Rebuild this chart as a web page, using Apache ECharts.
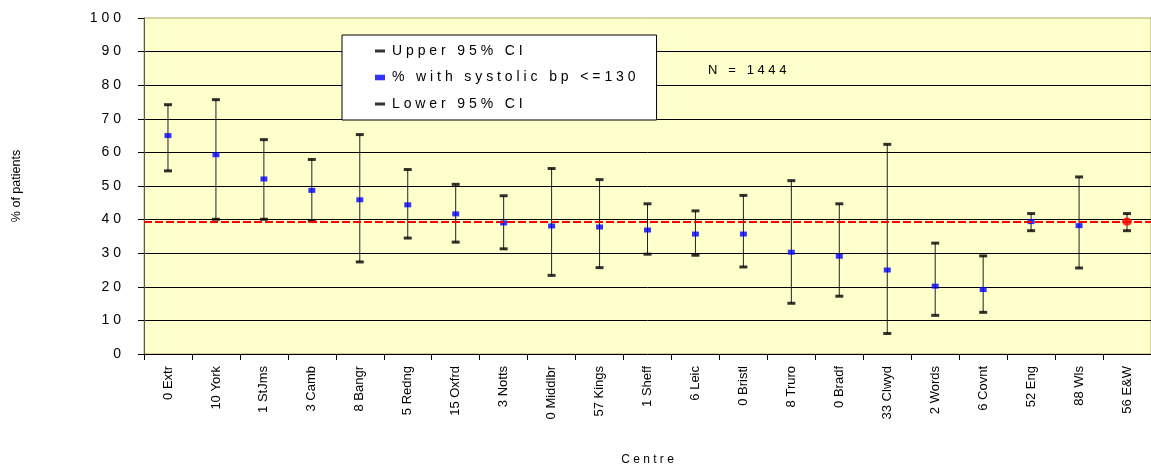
<!DOCTYPE html>
<html>
<head>
<meta charset="utf-8">
<script src="https://cdn.jsdelivr.net/npm/echarts@6/dist/echarts.min.js"></script>
<style>
  html, body { margin: 0; padding: 0; background: #ffffff; }
  #chart { width: 1151px; height: 474px; }
</style>
</head>
<body>
<div id="chart"></div>
<script>
// ---- data ----
const categories = ['0 Extr','10 York','1 StJms','3 Camb','8 Bangr','5 Redng','15 Oxfrd','3 Notts','0 Middlbr','57 Kings','1 Sheff','6 Leic','0 Bristl','8 Truro','0 Bradf','33 Clwyd','2 Words','6 Covnt','52 Eng','88 Wls','56 E&W'];
const upperCI = [74.2, 75.7, 63.8, 57.9, 65.3, 54.9, 50.5, 47.1, 55.2, 51.9, 44.7, 42.6, 47.2, 51.6, 44.7, 62.4, 33.0, 29.2, 41.8, 52.7, 41.8];
const pctSystolic = [65.0, 59.3, 52.1, 48.7, 45.9, 44.4, 41.7, 39.0, 38.1, 37.8, 36.9, 35.7, 35.7, 30.3, 29.1, 25.0, 20.2, 19.2, 39.4, 38.2, 39.4];
const lowerCI = [54.5, 40.1, 40.1, 39.6, 27.4, 34.5, 33.3, 31.3, 23.4, 25.7, 29.7, 29.4, 25.9, 15.1, 17.2, 6.1, 11.5, 12.4, 36.7, 25.6, 36.7];
const overallPct = 39.5;
const totalN = 1444;
const highlightCategory = '56 E&W';
const yTicks = { min: 0, max: 100, interval: 10 };

const seriesNames = ['Upper 95% CI', '% with systolic bp <=130', 'Lower 95% CI'];

// letter-spaced rendering of text as in the source picture
const spaced = s => String(s).split('').join(' ');

const FONT = 'Liberation Sans, Arial, sans-serif';

const chart = echarts.init(document.getElementById('chart'));

const pointData = pctSystolic.map((v, i) => {
  if (categories[i] === highlightCategory) {
    return { value: v, symbol: 'circle', symbolSize: [10, 8], itemStyle: { color: '#FF0000' }, z: 5 };
  }
  return v;
});

const option = {
  animation: false,
  backgroundColor: '#ffffff',
  textStyle: { fontFamily: FONT },
  grid: {
    left: 144, top: 18, height: 336, width: 1018.5,
    show: true, backgroundColor: '#FFFFCC', borderColor: '#a8a860', borderWidth: 1
  },
  legend: {
    orient: 'vertical',
    left: 342, top: 35,
    backgroundColor: '#ffffff',
    borderColor: '#000000', borderWidth: 1,
    padding: [9, 21, 9, 33],
    itemGap: 12.5,
    itemWidth: 10, itemHeight: 14,
    textStyle: { fontFamily: FONT, fontSize: 14, color: '#000', padding: [0, 0, 0, 2] },
    formatter: name => spaced(name),
    data: [
      { name: seriesNames[0], icon: 'path://M0,0H10V3H0Z' },
      { name: seriesNames[1], icon: 'path://M0,0H9V5H0Z' },
      { name: seriesNames[2], icon: 'path://M0,0H10V3H0Z' }
    ]
  },
  graphic: [{
    type: 'text', left: 708, top: 64,
    style: { text: spaced('N = ' + totalN), font: '13px ' + FONT, fill: '#000' }
  }],
  xAxis: {
    type: 'category',
    data: categories,
    boundaryGap: true,
    name: spaced('Centre'),
    nameLocation: 'middle',
    nameGap: 100,
    nameTextStyle: { fontSize: 12, color: '#000', fontFamily: FONT },
    axisLine: { lineStyle: { color: '#000', width: 1 } },
    axisTick: { show: true, length: 6, lineStyle: { color: '#000' } },
    axisLabel: { rotate: 90, margin: 12, fontSize: 13, color: '#000', fontFamily: FONT, interval: 0 },
    splitLine: { show: false }
  },
  yAxis: {
    type: 'value',
    min: yTicks.min, max: yTicks.max, interval: yTicks.interval,
    name: '% of patients',
    nameLocation: 'middle',
    nameRotate: 90,
    nameGap: 121,
    nameTextStyle: { fontSize: 12.5, color: '#000', fontFamily: FONT },
    axisLine: { show: true, lineStyle: { color: '#555', width: 1 } },
    axisTick: { show: true, length: 6, lineStyle: { color: '#000' } },
    axisLabel: { margin: 23, fontSize: 14, color: '#000', fontFamily: FONT, formatter: v => spaced(v) },
    splitLine: { show: true, showMinLine: false, showMaxLine: false, lineStyle: { color: '#000', width: 1 } }
  },
  series: [
    {
      type: 'custom',
      name: 'whisker',
      z: 2,
      data: categories.map((c, i) => [i, lowerCI[i], upperCI[i]]),
      encode: { x: 0, y: [1, 2] },
      renderItem: function (params, api) {
        const i = api.value(0);
        const lo = api.coord([i, api.value(1)]);
        const hi = api.coord([i, api.value(2)]);
        return {
          type: 'line',
          shape: { x1: lo[0], y1: lo[1], x2: hi[0], y2: hi[1] },
          style: { stroke: '#222', lineWidth: 1 }
        };
      },
      markLine: {
        silent: true,
        symbol: 'none',
        label: { show: false },
        lineStyle: { color: '#FF0000', width: 2, type: [8, 3] },
        data: [{ yAxis: overallPct }]
      }
    },
    {
      type: 'scatter', name: seriesNames[0], z: 3,
      symbol: 'rect', symbolSize: [8, 3],
      itemStyle: { color: '#000' },
      data: upperCI
    },
    {
      type: 'scatter', name: seriesNames[2], z: 3,
      symbol: 'rect', symbolSize: [8, 3],
      itemStyle: { color: '#000' },
      data: lowerCI
    },
    {
      type: 'scatter', name: seriesNames[1], z: 4,
      symbol: 'rect', symbolSize: [7, 5],
      itemStyle: { color: '#0000FF' },
      data: pointData
    }
  ]
};

chart.setOption(option);
</script>
</body>
</html>
